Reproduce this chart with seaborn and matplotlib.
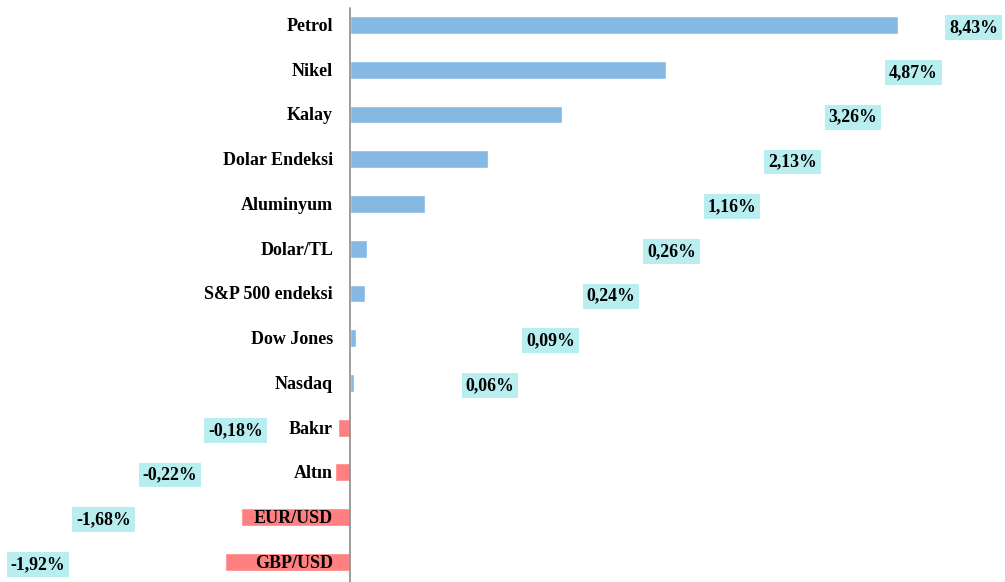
import matplotlib
matplotlib.use("Agg")
import matplotlib.pyplot as plt
import seaborn as sns
import pandas as pd

# weekly change (%) per instrument
categories = ["Petrol", "Nikel", "Kalay", "Dolar Endeksi", "Aluminyum", "Dolar/TL",
              "S&P 500 endeksi", "Dow Jones", "Nasdaq", "Bakır", "Altın",
              "EUR/USD", "GBP/USD"]
values = [8.43, 4.87, 3.26, 2.13, 1.16, 0.26, 0.24, 0.09, 0.06,
          -0.18, -0.22, -1.68, -1.92]
value_labels = ["8,43%", "4,87%", "3,26%", "2,13%", "1,16%", "0,26%", "0,24%",
                "0,09%", "0,06%", "-0,18%", "-0,22%", "-1,68%", "-1,92%"]

df = pd.DataFrame({"kategori": categories, "deger": values})
df["yon"] = ["pos" if v >= 0 else "neg" for v in values]

sns.set_style("white")
plt.rcParams["font.family"] = ["Liberation Serif", "DejaVu Serif"]

fig = plt.figure(figsize=(10.05, 5.82), dpi=100)
ax = fig.add_axes([0, 0, 1, 1])

sns.barplot(data=df, x="deger", y="kategori", hue="yon", orient="h",
            palette={"pos": "#85B8E2", "neg": "#FF8080"}, dodge=False,
            width=0.4, legend=False, ax=ax, saturation=1)

ax.set_xlim(-5.38, 10.08)
ax.set_ylim(12.45, -0.56)
for s in ax.spines.values():
    s.set_visible(False)
ax.set_xticks([])
ax.set_yticks([])
ax.set_xlabel("")
ax.set_ylabel("")
ax.axvline(0, ymin=0, ymax=0.986, color="#8C8C8C", lw=1.2, zorder=5)

# category names next to the axis, drawn on top of the bars
for i, cat in enumerate(categories):
    ax.annotate(cat, xy=(0, i + 0.03), xytext=(-12, 0), textcoords="offset points",
                ha="right", va="center", fontsize=13, fontweight="bold",
                color="black", zorder=6)

# value labels in a staircase layout
pos_i = 0
neg_i = 0
for i, (v, lab) in enumerate(zip(values, value_labels)):
    if v >= 0:
        lx = 9.6 - 0.93 * pos_i
        pos_i += 1
    else:
        lx = -1.754 - 1.015 * neg_i
        neg_i += 1
    ax.text(lx, i + 0.06, lab, ha="center", va="center", fontsize=12.8,
            fontweight="bold", color="black", zorder=7,
            bbox=dict(boxstyle="square,pad=0.22", fc="#B8EEF0", ec="none"))

fig.savefig("out.png", dpi=100)
